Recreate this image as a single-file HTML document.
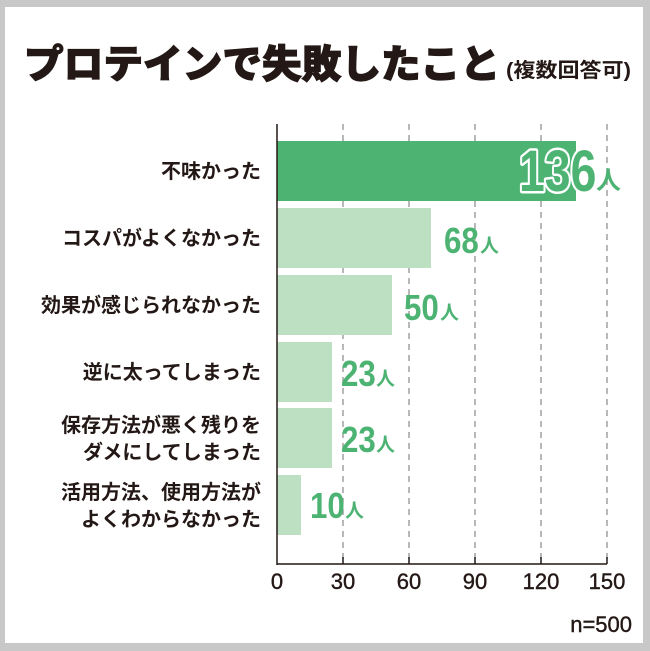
<!DOCTYPE html>
<html><head><meta charset="utf-8"><style>
html,body{margin:0;padding:0;background:#c8c8c8;}
svg{display:block}
</style></head><body>
<svg width="650" height="651" xmlns="http://www.w3.org/2000/svg" font-family="'Liberation Sans','Noto Sans CJK JP',sans-serif">
<rect x="0" y="0" width="650" height="651" fill="#c8c8c8"/>
<rect x="5" y="7" width="638" height="636" fill="#fff"/>
<text x="24" y="78" font-size="39" font-weight="900" fill="#231815" textLength="476" lengthAdjust="spacingAndGlyphs" stroke="#231815" stroke-width="1.2">プロテインで失敗したこと</text>
<text x="506" y="77" font-size="20" font-weight="bold" fill="#231815" textLength="125" lengthAdjust="spacingAndGlyphs">(複数回答可)</text>
<g stroke="#888" stroke-width="1.2" stroke-dasharray="6,5">
<line x1="343" y1="124" x2="343" y2="564"/>
<line x1="409" y1="124" x2="409" y2="564"/>
<line x1="475" y1="124" x2="475" y2="564"/>
<line x1="541" y1="124" x2="541" y2="564"/>
<line x1="607" y1="124" x2="607" y2="564"/>
</g>
<rect x="277" y="141" width="299" height="60" fill="#4db373"/>
<g fill="#bde0c3">
<rect x="277" y="208" width="154" height="60"/>
<rect x="277" y="275" width="115" height="60"/>
<rect x="277" y="342" width="55" height="60"/>
<rect x="277" y="408" width="55" height="60"/>
<rect x="277" y="475" width="24" height="60"/>
</g>
<line x1="277" y1="124" x2="277" y2="565" stroke="#231815" stroke-width="1.5"/>
<line x1="277" y1="564" x2="607" y2="564" stroke="#231815" stroke-width="1.5"/>
<g stroke="#231815" stroke-width="1.5">
<line x1="343" y1="557" x2="343" y2="564"/><line x1="409" y1="557" x2="409" y2="564"/><line x1="475" y1="557" x2="475" y2="564"/><line x1="541" y1="557" x2="541" y2="564"/><line x1="607" y1="557" x2="607" y2="564"/>
</g>
<g font-size="22" fill="#231815" text-anchor="middle" stroke="#231815" stroke-width="0.4">
<text x="277" y="589">0</text><text x="343" y="589">30</text><text x="409" y="589">60</text><text x="475" y="589">90</text><text x="541" y="589">120</text><text x="607" y="589">150</text>
</g>
<text x="632" y="632" font-size="22" fill="#231815" text-anchor="end" stroke="#231815" stroke-width="0.4">n=500</text>
<g font-size="20" font-weight="bold" fill="#231815" text-anchor="end">
<text x="261" y="178">不味かった</text>
<text x="261" y="245">コスパがよくなかった</text>
<text x="261" y="312">効果が感じられなかった</text>
<text x="261" y="379">逆に太ってしまった</text>
<text x="261" y="432">保存方法が悪く残りを</text>
<text x="261" y="459">ダメにしてしまった</text>
<text x="261" y="499">活用方法、使用方法が</text>
<text x="261" y="526">よくわからなかった</text>
</g>
<g font-weight="bold" fill="#4db373">
<text transform="translate(519,191) scale(0.8,1)" font-size="58" stroke="#fff" stroke-width="5" paint-order="stroke" stroke-linejoin="round">136</text>
<text x="596" y="189" font-size="25">人</text>
<text transform="translate(444,253) scale(0.87,1)" font-size="36">68</text>
<text x="480" y="252" font-size="19">人</text>
<text transform="translate(404,320) scale(0.87,1)" font-size="36">50</text>
<text x="440" y="319" font-size="19">人</text>
<text transform="translate(341,386) scale(0.87,1)" font-size="36">23</text>
<text x="376" y="385" font-size="19">人</text>
<text transform="translate(341,452) scale(0.87,1)" font-size="36">23</text>
<text x="376" y="451" font-size="19">人</text>
<text transform="translate(310,518) scale(0.87,1)" font-size="36">10</text>
<text x="345" y="517" font-size="19">人</text>
</g>
</svg>
</body></html>
